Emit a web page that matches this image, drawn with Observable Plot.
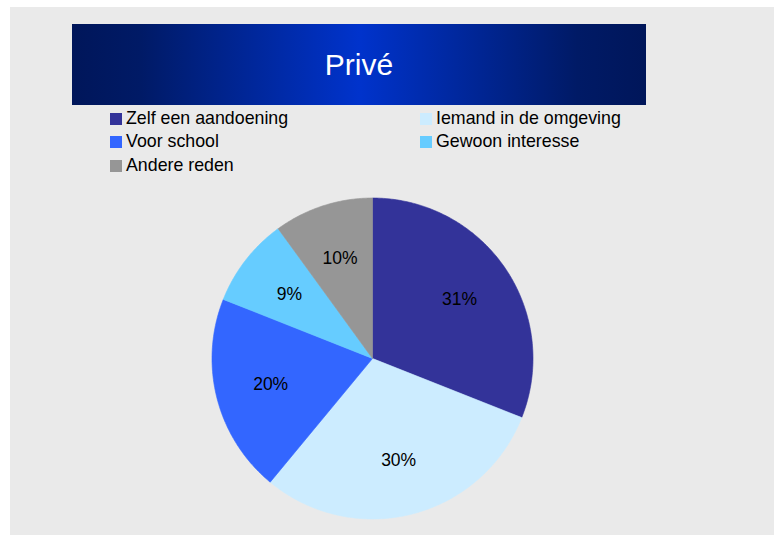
<!DOCTYPE html>
<html>
<head>
<meta charset="utf-8">
<script src="https://cdn.jsdelivr.net/npm/d3@7"></script>
<script src="https://cdn.jsdelivr.net/npm/@observablehq/plot@0.6"></script>
<style>
  html, body { margin: 0; padding: 0; background: #ffffff; }
  body { width: 774px; height: 535px; position: relative; overflow: hidden;
         font-family: "Liberation Sans", Arial, sans-serif; }
  #panel { position: absolute; left: 10px; top: 7px; width: 764px; height: 528px; background: #eaeaea; }
  #banner { position: absolute; left: 72px; top: 24px; width: 574px; height: 81px;
            background: linear-gradient(to right, #00165a 0%, #001a66 12%, #0033cc 50%, #001a66 88%, #00165a 100%);
            color: #ffffff; font-size: 30px; line-height: 81px; text-align: center; }
  .leg { position: absolute; font-size: 17.8px; color: #000; white-space: nowrap; line-height: 20px; }
  .sw { position: absolute; width: 12px; height: 12px; }
  #chart { position: absolute; }
</style>
</head>
<body>
<div id="panel"></div>
<div id="banner">Privé</div>
<div id="legend"></div>
<div id="chart"></div>
<script>
const title = "Privé";
const categories = ["Zelf een aandoening", "Iemand in de omgeving", "Voor school", "Gewoon interesse", "Andere reden"];
const values = [31, 30, 20, 9, 10];
const colors = ["#333399", "#CCECFF", "#3366FF", "#66CCFF", "#969696"];
const labels = ["31%", "30%", "20%", "9%", "10%"];

// Legend (2 columns, row-major)
const legend = document.getElementById("legend");
categories.forEach((c, i) => {
  const col = i % 2, row = Math.floor(i / 2);
  const sx = col === 0 ? 110 : 420;
  const sy = 113 + row * 23.3;
  const sw = document.createElement("div");
  sw.className = "sw";
  sw.style.left = sx + "px"; sw.style.top = sy + "px"; sw.style.background = colors[i];
  legend.appendChild(sw);
  const t = document.createElement("div");
  t.className = "leg";
  t.textContent = c;
  t.style.left = (sx + 16) + "px"; t.style.top = (sy - 5) + "px";
  legend.appendChild(t);
});

// Pie geometry from data
const R = 160.5;           // pixel radius
const half = 172;          // half size of svg
const cx = 372.3, cy = 358;
const ext = half / R;
const pie = d3.pie().sort(null).value(d => d.value)(categories.map((c, i) => ({key: c, value: values[i], label: labels[i]})));

const pts = [];
pie.forEach(p => {
  pts.push({key: p.data.key, x: 0, y: 0});
  const n = Math.max(2, Math.ceil((p.endAngle - p.startAngle) / 0.01));
  for (let k = 0; k <= n; k++) {
    const a = p.startAngle + (p.endAngle - p.startAngle) * k / n;
    pts.push({key: p.data.key, x: Math.sin(a), y: Math.cos(a)});
  }
  pts.push({key: p.data.key, x: 0, y: 0});
});
const lr = 0.655;
const lab = pie.map(p => {
  const a = (p.startAngle + p.endAngle) / 2;
  return {label: p.data.label, x: lr * Math.sin(a), y: lr * Math.cos(a)};
});

const chart = Plot.plot({
  width: half * 2, height: half * 2,
  margin: 0,
  style: {background: "transparent", overflow: "visible", fontFamily: "'Liberation Sans', Arial, sans-serif"},
  x: {domain: [-ext, ext], axis: null},
  y: {domain: [-ext, ext], axis: null},
  color: {domain: categories, range: colors},
  marks: [
    Plot.line(pts, {x: "x", y: "y", z: "key", fill: "key", stroke: "key", strokeWidth: 0.6, curve: "linear"}),
    Plot.text(lab, {x: "x", y: "y", text: "label", fontSize: 17.5, fill: "#000"})
  ]
});
const holder = document.getElementById("chart");
holder.style.left = (cx - half) + "px";
holder.style.top = (cy - half) + "px";
holder.appendChild(chart);
</script>
</body>
</html>
